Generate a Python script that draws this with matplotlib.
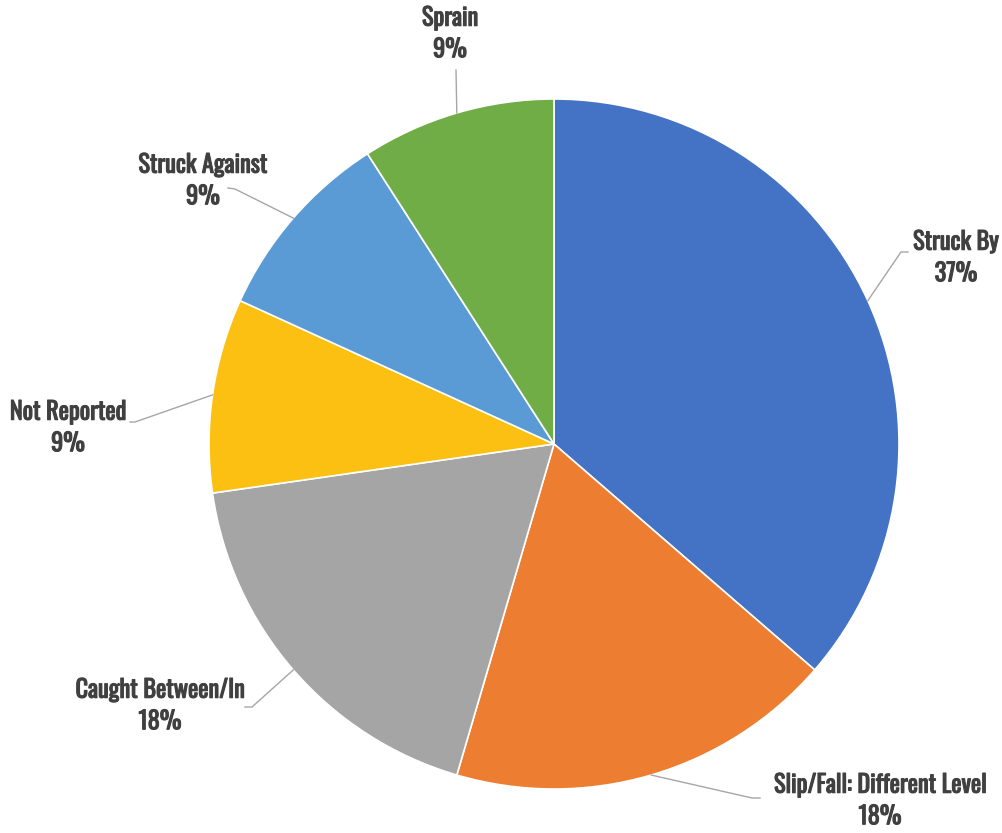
import numpy as np
import matplotlib
matplotlib.use("Agg")
import matplotlib.pyplot as plt
import matplotlib.patheffects as pe
from matplotlib import font_manager

categories = ["Struck By", "Slip/Fall: Different Level", "Caught Between/In",
              "Not Reported", "Struck Against", "Sprain"]
counts = [4, 2, 2, 1, 1, 1]
pct_labels = ["37%", "18%", "18%", "9%", "9%", "9%"]
colors = ["#4472C4", "#ED7D31", "#A5A5A5", "#FBC012", "#5B9BD5", "#70AD47"]

# pick a condensed font if one is installed, at its heaviest weight
ttf = font_manager.fontManager.ttflist
names = {f.name for f in ttf}
fam, stretch, fsize, weight = "DejaVu Sans", "normal", 12, "bold"
stroke = 0.0
for cand in ["Oswald", "Roboto Condensed", "Liberation Sans Narrow",
             "Open Sans Condensed", "Noto Sans Condensed"]:
    if cand in names:
        fam = cand
        ws = [f.weight for f in ttf if f.name == cand]
        ws = [w if isinstance(w, int) else font_manager.weight_dict.get(w, 400) for w in ws]
        weight = max(ws)
        fsize = 16 if weight >= 600 else 17.5
        stroke = 0.0 if weight >= 600 else 0.8
        break

W, H = 1002, 833
fig = plt.figure(figsize=(W / 100, H / 100), dpi=100)
ax = fig.add_axes([0, 0, 1, 1])

cx, cy, r = 554, H - 444, 345
wedges, _ = ax.pie(counts, colors=colors, startangle=90, counterclock=False,
                   center=(cx, cy), radius=r, frame=True,
                   wedgeprops=dict(edgecolor="white", linewidth=1.2))
ax.set_xlim(0, W)
ax.set_ylim(0, H)
ax.set_aspect("equal")
ax.axis("off")

# label placement (pixel coords, top-left origin): text centre, elbow points
label_pos = [(956, 258), (880, 801), (160, 706), (68, 428), (203, 181), (450, 34)]
elbows = [[(908, 252), (901, 252)],
          [(760, 798), (752, 798)],
          [(245, 707), (252, 707)],
          [(130, 422), (135, 422)],
          [(228, 188), (235, 189)],
          [(456, 70), (456, 70)]]

effects = [pe.withStroke(linewidth=stroke, foreground="#404040")] if stroke else []
font = dict(family=[fam, "DejaVu Sans"], weight=weight, stretch=stretch,
            color="#404040", fontsize=fsize, path_effects=effects)

for w, cat, pct, (tx, ty), el in zip(wedges, categories, pct_labels, label_pos, elbows):
    mid = np.deg2rad((w.theta1 + w.theta2) / 2)
    ex, ey = cx + r * np.cos(mid), cy + r * np.sin(mid)
    xs = [p[0] for p in el] + [ex]
    ys = [H - p[1] for p in el] + [ey]
    ax.plot(xs, ys, color="#A6A6A6", linewidth=1.0, zorder=1)
    ax.text(tx, H - ty, cat + "\n" + pct, ha="center", va="center",
            linespacing=1.45, **font)

fig.savefig("out.png", dpi=100)
